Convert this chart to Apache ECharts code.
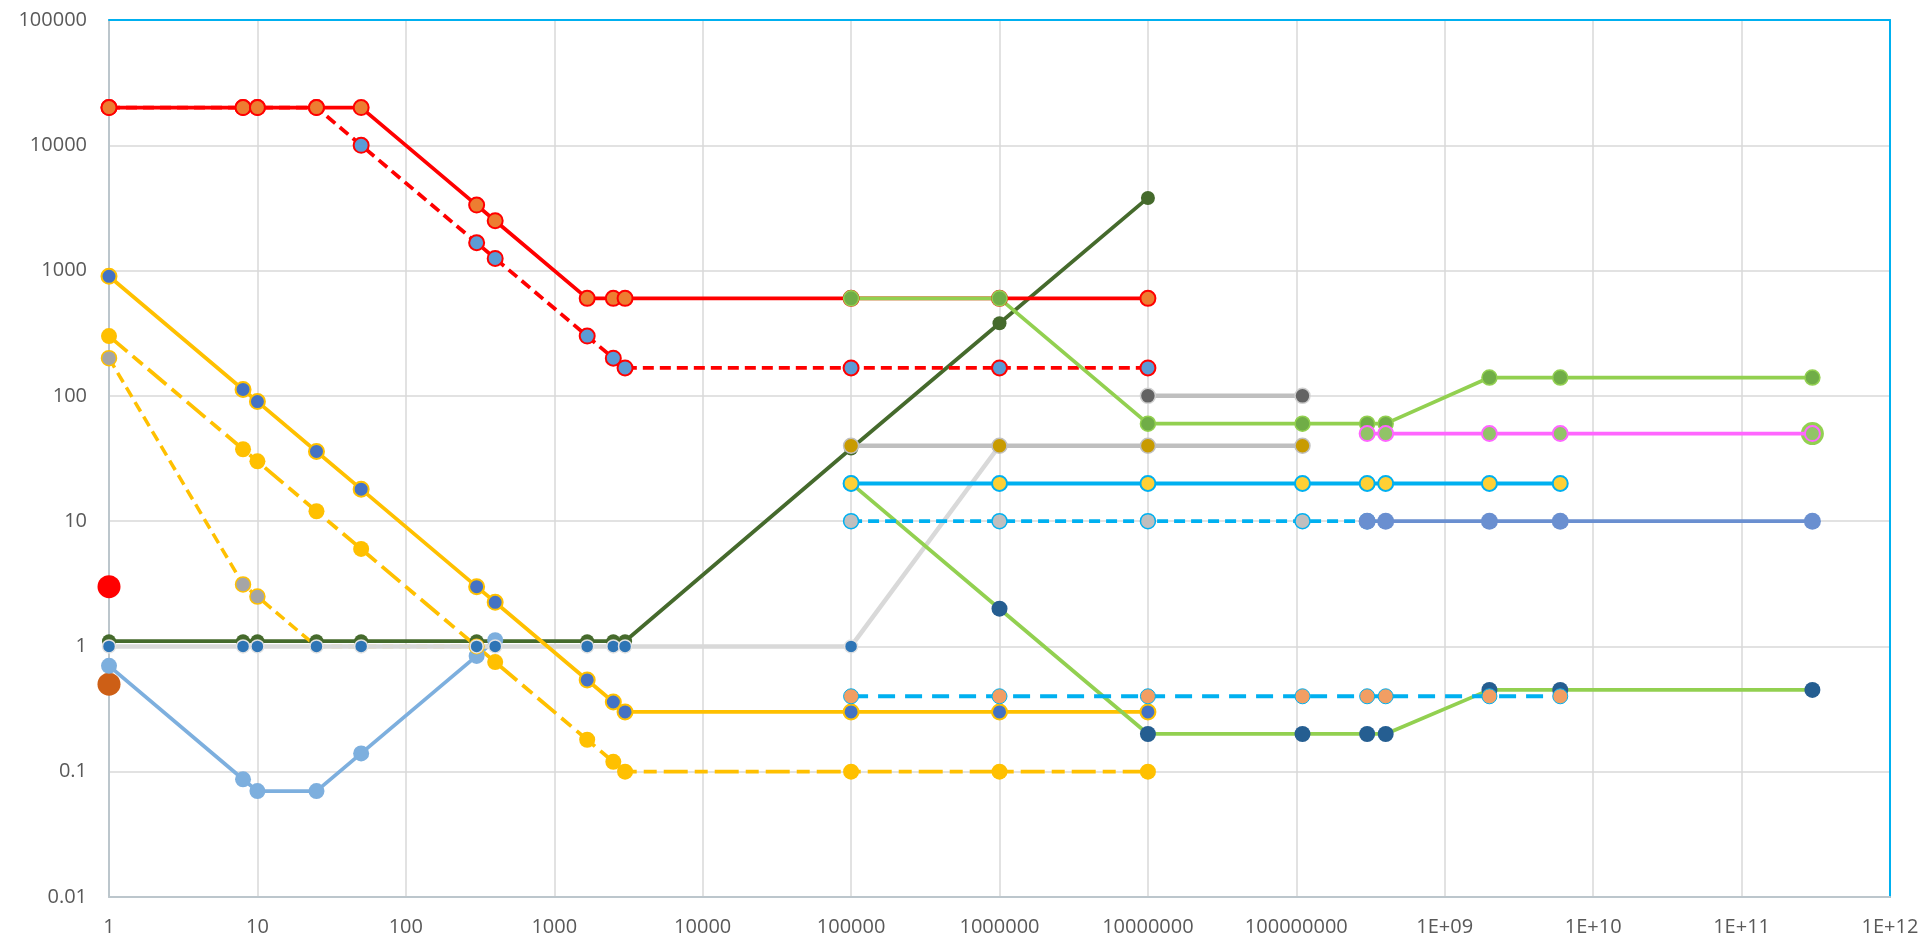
<!DOCTYPE html>
<html><head><meta charset="utf-8">
<script src="https://cdn.jsdelivr.net/npm/echarts@6/dist/echarts.min.js"></script>
<style>html,body{margin:0;padding:0;background:#fff}#c{width:1922px;height:940px}</style>
</head><body><div id="c"></div>
<script>
// ---- tick labels ----
const xTickLabels = ['1','10','100','1000','10000','100000','1000000','10000000','100000000','1E+09','1E+10','1E+11','1E+12'];
const yTickLabels = ['0.01','0.1','1','10','100','1000','10000','100000'];

// ---- series data (x, y in original units) ----
const redSolidX  = [1, 8, 10, 25, 50, 300, 400, 1667, 2500, 3000, 1e5, 1e6, 1e7];
const redSolidY  = [20000, 20000, 20000, 20000, 20000, 3333, 2500, 600, 600, 600, 600, 600, 600];
const redDashX   = [1, 8, 10, 25, 50, 300, 400, 1667, 2500, 3000, 1e5, 1e6, 1e7];
const redDashY   = [20000, 20000, 20000, 20000, 10000, 1667, 1250, 300, 200, 167, 167, 167, 167];
const goldSolidX = [1, 8, 10, 25, 50, 300, 400, 1667, 2500, 3000, 1e5, 1e6, 1e7];
const goldSolidY = [900, 112.5, 90, 36, 18, 3, 2.25, 0.54, 0.36, 0.3, 0.3, 0.3, 0.3];
const goldDashX  = [1, 8, 10, 25, 50, 300, 400, 1667, 2500, 3000, 1e5, 1e6, 1e7];
const goldDashY  = [300, 37.5, 30, 12, 6, 1, 0.75, 0.18, 0.12, 0.1, 0.1, 0.1, 0.1];
const goldDotX   = [1, 8, 10, 25, 50, 300, 400];
const goldDotY   = [200, 3.125, 2.5, 1, 1, 1, 1];
const darkGreenX = [1, 8, 10, 25, 50, 300, 400, 1667, 2500, 3000, 1e5, 1e6, 1e7];
const darkGreenY = [1.1, 1.1, 1.1, 1.1, 1.1, 1.1, 1.1, 1.1, 1.1, 1.1, 38, 380, 3800];
const greyOneX   = [1, 8, 10, 25, 50, 300, 400, 1667, 2500, 3000, 1e5, 1e6];
const greyOneY   = [1, 1, 1, 1, 1, 1, 1, 1, 1, 1, 1, 40];
const lightBlueX = [1, 8, 10, 25, 50, 300, 400];
const lightBlueY = [0.7, 0.087, 0.07, 0.07, 0.14, 0.84, 1.12];
const greenHighX = [1e5, 1e6, 1e7, 1.1e8, 3e8, 4e8, 2e9, 6e9, 3e11];
const greenHighY = [600, 600, 60, 60, 60, 60, 140, 140, 140];
const greenLowX  = [1e5, 1e6, 1e7, 1.1e8, 3e8, 4e8, 2e9, 6e9, 3e11];
const greenLowY  = [20, 2, 0.2, 0.2, 0.2, 0.2, 0.45, 0.45, 0.45];
const grey100X   = [1e7, 1.1e8];
const grey100Y   = [100, 100];
const grey40X    = [1e5, 1e6, 1e7, 1.1e8];
const grey40Y    = [40, 40, 40, 40];
const blue20X    = [1e5, 1e6, 1e7, 1.1e8, 3e8, 4e8, 2e9, 6e9];
const blue20Y    = [20, 20, 20, 20, 20, 20, 20, 20];
const blue10X    = [1e5, 1e6, 1e7, 1.1e8, 3e8];
const blue10Y    = [10, 10, 10, 10, 10];
const steelX     = [3e8, 4e8, 2e9, 6e9, 3e11];
const steelY     = [10, 10, 10, 10, 10];
const blue04X    = [1e5, 1e6, 1e7, 1.1e8, 3e8, 4e8, 2e9, 6e9];
const blue04Y    = [0.4, 0.4, 0.4, 0.4, 0.4, 0.4, 0.4, 0.4];
const pinkX      = [3e8, 4e8, 2e9, 6e9, 3e11];
const pinkY      = [50, 50, 50, 50, 50];
const bigRedPt    = [1, 3];
const bigOrangePt = [1, 0.5];
const bigGreenPt  = [3e11, 50];

// ---- build ----
function pts(xs, ys) { return xs.map((x, i) => [Math.log10(x), Math.log10(ys[i])]); }
function line(name, xs, ys, o) {
  return {
    name, type: 'line', data: pts(xs, ys), clip: false,
    symbol: 'circle', symbolSize: o.size || 15, showSymbol: true,
    lineStyle: { color: o.line, width: o.width || 3.75, type: o.dash || 'solid', cap: 'butt' },
    itemStyle: { color: o.fill, borderColor: o.border || o.fill, borderWidth: o.bw || 0 },
    emphasis: { disabled: true }, silent: true
  };
}
function dot(name, p, size, color, border, bw) {
  return {
    name, type: 'scatter', data: [[Math.log10(p[0]), Math.log10(p[1])]], clip: false,
    symbol: 'circle', symbolSize: size,
    itemStyle: { color, borderColor: border || color, borderWidth: bw || 0, opacity: 1 },
    emphasis: { disabled: true }, silent: true
  };
}

const series = [
  line('darkGreen', darkGreenX, darkGreenY, { line: '#456A2C', fill: '#456A2C', size: 14, width: 3.75 }),
  line('lightBlue', lightBlueX, lightBlueY, { line: '#7DAFDE', fill: '#7DAFDE', size: 16, width: 3.75 }),
  line('goldDot', goldDotX, goldDotY, { line: '#FFC000', fill: '#A5A5A5', border: '#FFC000', bw: 1.5,
        size: (v, p) => (p.dataIndex < 3 ? 15 : 11), width: 3.5, dash: [11, 6] }),
  line('goldDash', goldDashX, goldDashY, { line: '#FFC000', fill: '#FFC000', size: 16, width: 3.75, dash: [24, 7, 13, 7] }),
  line('greyOne', greyOneX, greyOneY, { line: '#D9D9D9', fill: '#2E75B6', border: '#E2E2E2', bw: 1.5, size: 13, width: 4.5 }),
  line('goldSolid', goldSolidX, goldSolidY, { line: '#FFC000', fill: '#4472C4', border: '#FFC000', bw: 2, size: 15, width: 3.75 }),
  line('redDash', redDashX, redDashY, { line: '#FF0000', fill: '#5B9BD5', border: '#FF0000', bw: 2, size: 15, width: 3.75, dash: [11, 6] }),
  line('redSolid', redSolidX, redSolidY, { line: '#FF0000', fill: '#ED7D31', border: '#FF0000', bw: 2, size: 15, width: 3.75 }),
  line('greenHigh', greenHighX, greenHighY, { line: '#92D050', fill: '#70AD47', border: '#92D050', bw: 1.5, size: 15, width: 3.75 }),
  line('grey100', grey100X, grey100Y, { line: '#BFBFBF', fill: '#636363', border: '#D0D0D0', bw: 1.5, size: 15, width: 4.5 }),
  line('grey40', grey40X, grey40Y, { line: '#BFBFBF', fill: '#C89B00', border: '#BFBFBF', bw: 1.5, size: 15, width: 4.5 }),
  line('greenLow', greenLowX, greenLowY, { line: '#92D050', fill: '#255E91', size: 16, width: 3.75 }),
  line('blue20', blue20X, blue20Y, { line: '#00B0F0', fill: '#FFD034', border: '#00B0F0', bw: 2, size: 15, width: 4 }),
  line('blue10', blue10X, blue10Y, { line: '#00B0F0', fill: '#BFBFBF', border: '#00B0F0', bw: 1.5, size: 15, width: 3.75, dash: [11, 6] }),
  line('steel', steelX, steelY, { line: '#6A8FD0', fill: '#6A8FD0', size: 17, width: 3.75 }),
  line('blue04', blue04X, blue04Y, { line: '#00B0F0', fill: '#F29E63', border: '#00B0F0', bw: 1, size: 15, width: 4, dash: [17, 10] }),
  dot('bigGreen', bigGreenPt, 23, '#92D050'),
  line('pink', pinkX, pinkY, { line: '#FF66FF', fill: '#91C467', border: '#FF66FF', bw: 2, size: 15, width: 3.75 }),
  dot('bigRed', bigRedPt, 23, '#FF0000'),
  dot('bigOrange', bigOrangePt, 23, '#CD5F16')
];

const labelStyle = { color: '#595959', fontSize: 20, fontFamily: 'Open Sans' };
const chart = echarts.init(document.getElementById('c'), null, { renderer: 'canvas' });
chart.setOption({
  animation: false,
  backgroundColor: '#ffffff',
  grid: { left: 109, top: 20, right: 32, bottom: 43, containLabel: false },
  xAxis: [
    { type: 'value', min: 0, max: 12, interval: 1, position: 'bottom',
      axisLine: { show: true, onZero: false, lineStyle: { color: '#BCC6CC', width: 2 } },
      axisTick: { show: false },
      axisLabel: Object.assign({ margin: 20, formatter: v => xTickLabels[Math.round(v)] }, labelStyle),
      splitLine: { show: true, lineStyle: { color: '#D9D9D9', width: 1.5 } } },
    { type: 'value', min: 0, max: 12, interval: 1, position: 'top',
      axisLine: { show: true, onZero: false, lineStyle: { color: '#00B0F0', width: 2 } },
      axisTick: { show: false }, axisLabel: { show: false }, splitLine: { show: false } }
  ],
  yAxis: [
    { type: 'value', min: -2, max: 5, interval: 1, position: 'left',
      axisLine: { show: true, onZero: false, lineStyle: { color: '#BCC6CC', width: 2 } },
      axisTick: { show: false },
      axisLabel: Object.assign({ margin: 22, formatter: v => yTickLabels[Math.round(v) + 2] }, labelStyle),
      splitLine: { show: true, lineStyle: { color: '#D9D9D9', width: 1.5 } } },
    { type: 'value', min: -2, max: 5, interval: 1, position: 'right',
      axisLine: { show: true, onZero: false, lineStyle: { color: '#00B0F0', width: 2 } },
      axisTick: { show: false }, axisLabel: { show: false }, splitLine: { show: false } }
  ],
  series: series
});
</script></body></html>
